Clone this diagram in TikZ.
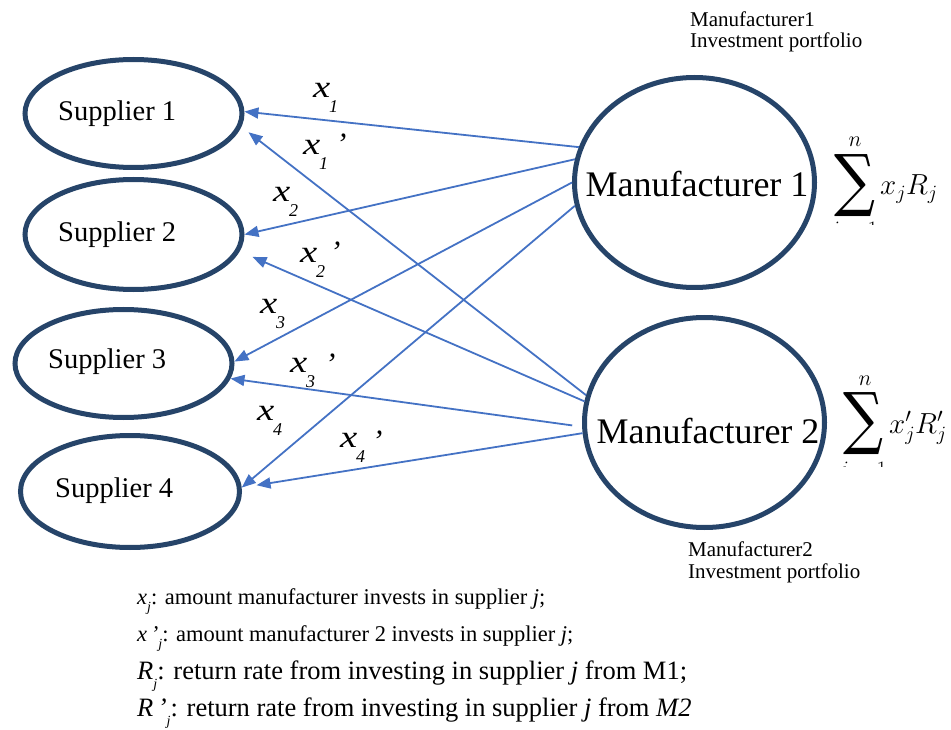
\RequirePackage{fix-cm}
\documentclass[tikz,border=0pt]{standalone}
\usepackage{amsmath}
\usepackage{graphicx}
\usepackage{fontspec}
\setmainfont{Liberation Serif}
\newfontfamily\sumfont{DejaVu Serif}
\usetikzlibrary{shapes.geometric,arrows.meta}

\definecolor{navy}{HTML}{264469}
\definecolor{flow}{HTML}{4472C4}

% subscript used in the legend lines
\newcommand{\lsub}[1]{\raisebox{-0.35em}{\fontsize{14}{14}\selectfont\itshape #1}}
% an investment variable on a connector: x with an index below it
\newcommand{\flowlabel}[4]{%
  \node[xvar] (#1) at (#2,#3) {\scalebox{1.25}[1]{x}};
  \node[xsub] (#1-sub) at (#2+16,#3+15) {#4};
}
% a large summation sign of given width and total height
\newcommand{\bigsum}[2]{\resizebox*{#1}{#2}{\sumfont ∑}}

\begin{document}
\begin{tikzpicture}[x=1pt,y=-1pt,
  party/.style={ellipse, draw=navy, line width=5pt, inner sep=0pt},
  supname/.style={inner sep=0pt, anchor=base west, font=\fontsize{28.5}{30}\selectfont},
  manname/.style={inner sep=0pt, anchor=base, font=\fontsize{36}{38}\selectfont},
  flowarrow/.style={draw=flow, line width=1.8pt, -{Triangle[length=14pt,width=11pt]}},
  xvar/.style={inner sep=0pt, anchor=base west, font=\fontsize{31}{31}\selectfont\itshape},
  xsub/.style={inner sep=0pt, anchor=base west, font=\fontsize{18}{18}\selectfont\itshape},
  note/.style={inner sep=0pt, anchor=base west, align=left, font=\fontsize{21}{21.6}\selectfont},
  legendA/.style={inner sep=0pt, anchor=base west, font=\fontsize{22.5}{24}\selectfont},
  legendB/.style={inner sep=0pt, anchor=base west, font=\fontsize{26.5}{28}\selectfont},
  mathbig/.style={inner sep=0pt, font=\fontsize{29}{31}\selectfont},
  mathsmall/.style={inner sep=0pt, font=\fontsize{22}{23}\selectfont},
]
\useasboundingbox (0,0) rectangle (951,730);

% suppliers
\node[party, minimum width=217pt, minimum height=108pt] (s1) at (133.5,113.5) {};
\node[party, minimum width=217pt, minimum height=110pt] (s2) at (133.5,234.5) {};
\node[party, minimum width=217pt, minimum height=108pt] (s3) at (123.5,363.5) {};
\node[party, minimum width=219pt, minimum height=112pt] (s4) at (130,491.5) {};
\node[supname] (s1t) at (58,121) {Supplier 1};
\node[supname] (s2t) at (58,242) {Supplier 2};
\node[supname] (s3t) at (48,368) {Supplier 3};
\node[supname] (s4t) at (55,497) {Supplier 4};

% manufacturers
\node[party, minimum width=240pt, minimum height=210pt] (m1) at (694.5,182.5) {};
\node[party, minimum width=240pt, minimum height=210pt] (m2) at (704.5,422.5) {};
\node[manname] (m1t) at (697,197) {Manufacturer 1};
\node[manname] (m2t) at (708,443) {Manufacturer 2};

% investment flows from manufacturer 1
\draw[flowarrow] (m1.163) -- (s1.1);
\draw[flowarrow] (m1.169) -- (s2.0);
\draw[flowarrow] (m1.180) -- (s3.1);
\draw[flowarrow] (m1.191) -- (s4.2);
% investment flows from manufacturer 2
\draw[flowarrow, shorten >=9pt] (m2.167) -- (s1.-7);
\draw[flowarrow, shorten >=14pt] (m2.170) -- (s2.-9);
\draw[flowarrow, shorten <=10pt] (m2.182) -- (s3.-8);
\draw[flowarrow, shorten >=15pt] (m2.185) -- (s4.2);

% flow variables
\flowlabel{x1}{313}{98}{1}
\flowlabel{y1}{303}{155}{1}
\flowlabel{x2}{273}{202}{2}
\flowlabel{y2}{300}{262}{2}
\flowlabel{x3}{260}{313}{3}
\flowlabel{y3}{290}{372}{3}
\flowlabel{x4}{257}{420}{4}
\flowlabel{y4}{340}{447}{4}
\node[xvar] (y1p) at (336,155) {’};
\node[xvar] (y2p) at (330,262) {’};
\node[xvar] (y3p) at (325,374) {’};
\node[xvar] (y4p) at (372,451) {’};

% portfolio returns
\begin{scope}
  \clip (820,120) rectangle (951,225);
  \node[inner sep=0pt] (sig1) at (854.5,186) {\bigsum{41pt}{62pt}};
  \node[mathsmall] (n1) at (855,142) {$n$};
  \node[mathsmall] (low1) at (855,229) {$i=1$};
  \node[mathbig, anchor=base west] (r1) at (880,195) {$x_jR_j$};
\end{scope}
\begin{scope}
  \clip (820,360) rectangle (951,466);
  \node[inner sep=0pt] (sig2) at (863,424) {\bigsum{40pt}{62pt}};
  \node[mathsmall] (n2) at (865,381) {$n$};
  \node[mathsmall] (low2) at (864,469) {$i=1$};
  \node[mathbig, anchor=base west] (r2) at (889,433) {$x'_jR'_j$};
\end{scope}

% portfolio captions (anchored at the baseline of their last line)
\node[note] (p1) at (690,48) {Manufacturer1\\Investment portfolio};
\node[note] (p2) at (688,578) {Manufacturer2\\Investment portfolio};

% legend
\node[legendA] (l1) at (137,604) {\textit{x}\lsub{j}: amount manufacturer invests in supplier \textit{j};};
\node[legendA] (l2) at (137,641) {\textit{x\,’}\lsub{j}: amount manufacturer 2 invests in supplier \textit{j};};
\node[legendB] (l3) at (137,679) {\textit{R}\lsub{j}: return rate from investing in supplier \textit{j} from M1;};
\node[legendB] (l4) at (137,716) {\textit{R\,’}\lsub{j}: return rate from investing in supplier \textit{j} from \textit{M2}};
\end{tikzpicture}
\end{document}
